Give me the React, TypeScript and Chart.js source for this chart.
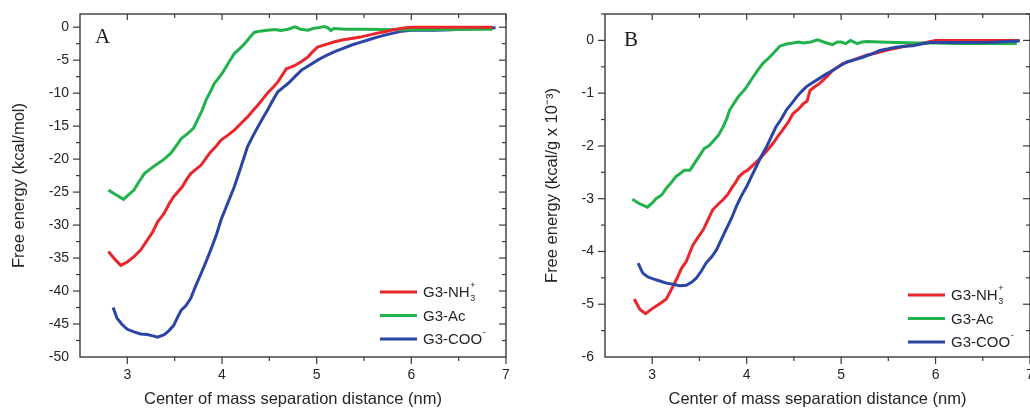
import React, { useEffect, useRef } from "react";
import { Chart, registerables } from "chart.js";

Chart.register(...registerables);

// ---------- data ----------
const X_TICKS = [3, 4, 5, 6, 7];
const A_Y_TICKS = [-50, -45, -40, -35, -30, -25, -20, -15, -10, -5, 0];
const B_Y_TICKS = [-6, -5, -4, -3, -2, -1, 0];

const SERIES_NAMES = ["G3-NH3+", "G3-Ac", "G3-COO-"];
const SERIES_COLORS = ["#e8262b", "#22b24c", "#2b45a6"];

// Panel A (kcal/mol)
const A_NH3_X = [2.80, 2.87, 2.93, 3.00, 3.07, 3.14, 3.21, 3.27, 3.32, 3.39, 3.44, 3.49, 3.58, 3.63, 3.67, 3.72, 3.78, 3.83, 3.88, 3.94, 3.99, 4.06, 4.13, 4.20, 4.27, 4.33, 4.38, 4.43, 4.48, 4.54, 4.59, 4.64, 4.68, 4.72, 4.77, 4.84, 4.91, 4.96, 5.01, 5.10, 5.19, 5.28, 5.37, 5.46, 5.55, 5.64, 5.72, 5.81, 5.90, 6.00, 6.20, 6.40, 6.60, 6.86];
const A_NH3_Y = [-34.0, -35.2, -36.1, -35.6, -34.8, -33.8, -32.3, -31.0, -29.5, -28.2, -26.8, -25.7, -24.2, -23.0, -22.2, -21.6, -20.9, -19.9, -18.9, -18.0, -17.1, -16.4, -15.6, -14.6, -13.6, -12.6, -11.8, -10.9, -10.0, -9.1, -8.3, -7.2, -6.3, -6.1, -5.8, -5.2, -4.5, -3.7, -3.0, -2.6, -2.2, -1.9, -1.7, -1.5, -1.2, -0.9, -0.7, -0.4, -0.15, 0.0, 0.0, 0.0, 0.0, 0.0];

const A_AC_X = [2.80, 2.88, 2.96, 3.02, 3.07, 3.12, 3.18, 3.25, 3.32, 3.39, 3.46, 3.52, 3.57, 3.64, 3.70, 3.74, 3.79, 3.83, 3.88, 3.92, 3.97, 4.01, 4.07, 4.13, 4.19, 4.24, 4.29, 4.34, 4.40, 4.48, 4.56, 4.62, 4.70, 4.77, 4.83, 4.91, 4.96, 5.01, 5.08, 5.12, 5.15, 5.18, 5.30, 5.50, 5.70, 5.90, 6.10, 6.30, 6.50, 6.70, 6.86];
const A_AC_Y = [-24.7, -25.4, -26.1, -25.3, -24.7, -23.5, -22.2, -21.4, -20.7, -20.0, -19.1, -17.9, -16.9, -16.1, -15.3, -14.1, -12.6, -11.1, -9.7, -8.5, -7.6, -6.8, -5.4, -4.0, -3.2, -2.5, -1.6, -0.8, -0.6, -0.45, -0.35, -0.5, -0.3, 0.05, -0.3, -0.45, -0.2, -0.1, 0.1, -0.1, -0.5, -0.2, -0.3, -0.3, -0.35, -0.4, -0.4, -0.35, -0.35, -0.3, -0.3];

const A_COO_X = [2.85, 2.89, 2.94, 3.00, 3.07, 3.14, 3.21, 3.27, 3.32, 3.39, 3.44, 3.49, 3.53, 3.57, 3.62, 3.67, 3.72, 3.78, 3.83, 3.88, 3.94, 3.99, 4.06, 4.13, 4.20, 4.27, 4.33, 4.38, 4.43, 4.48, 4.54, 4.59, 4.64, 4.70, 4.77, 4.84, 4.92, 5.01, 5.10, 5.19, 5.28, 5.37, 5.46, 5.55, 5.64, 5.72, 5.81, 5.90, 6.00, 6.08, 6.25, 6.43, 6.60, 6.75, 6.89];
const A_COO_Y = [-42.5, -44.1, -45.0, -45.8, -46.2, -46.5, -46.6, -46.8, -47.0, -46.6, -46.0, -45.2, -44.0, -42.9, -42.2, -41.1, -39.3, -37.3, -35.6, -33.8, -31.5, -29.2, -26.7, -24.2, -21.2, -18.1, -16.4, -15.1, -13.8, -12.6, -11.0, -9.8, -9.2, -8.5, -7.5, -6.5, -5.8, -5.0, -4.3, -3.7, -3.2, -2.7, -2.3, -1.9, -1.5, -1.2, -0.9, -0.6, -0.45, -0.45, -0.45, -0.4, -0.2, -0.15, -0.1];

// Panel B (kcal/g x 10^-3)
const B_NH3_X = [2.81, 2.87, 2.93, 3.01, 3.08, 3.15, 3.22, 3.27, 3.31, 3.36, 3.43, 3.49, 3.54, 3.59, 3.64, 3.70, 3.75, 3.80, 3.84, 3.88, 3.92, 3.97, 4.01, 4.07, 4.14, 4.21, 4.28, 4.33, 4.38, 4.44, 4.49, 4.55, 4.60, 4.64, 4.67, 4.72, 4.77, 4.84, 4.91, 4.97, 5.02, 5.13, 5.27, 5.37, 5.50, 5.70, 5.90, 6.00, 6.30, 6.60, 6.89];
const B_NH3_Y = [-4.90, -5.10, -5.18, -5.07, -4.99, -4.90, -4.66, -4.48, -4.32, -4.19, -3.88, -3.72, -3.59, -3.40, -3.21, -3.10, -3.02, -2.92, -2.80, -2.70, -2.58, -2.50, -2.46, -2.36, -2.24, -2.10, -1.95, -1.82, -1.70, -1.55, -1.39, -1.30, -1.20, -1.15, -0.95, -0.88, -0.82, -0.70, -0.57, -0.50, -0.44, -0.37, -0.28, -0.24, -0.18, -0.10, -0.04, 0.0, 0.0, 0.0, 0.0];

const B_AC_X = [2.79, 2.87, 2.95, 3.00, 3.04, 3.10, 3.15, 3.20, 3.25, 3.30, 3.34, 3.40, 3.47, 3.55, 3.60, 3.64, 3.70, 3.75, 3.79, 3.82, 3.87, 3.91, 3.96, 4.00, 4.07, 4.12, 4.17, 4.23, 4.28, 4.35, 4.42, 4.49, 4.55, 4.60, 4.68, 4.75, 4.83, 4.91, 4.96, 5.00, 5.05, 5.10, 5.17, 5.22, 5.28, 5.40, 5.60, 5.80, 6.00, 6.20, 6.40, 6.60, 6.86];
const B_AC_Y = [-3.01, -3.10, -3.16, -3.08, -3.00, -2.93, -2.80, -2.70, -2.58, -2.52, -2.46, -2.46, -2.27, -2.05, -2.00, -1.92, -1.80, -1.64, -1.48, -1.32, -1.18, -1.07, -0.97, -0.88, -0.69, -0.56, -0.44, -0.34, -0.25, -0.11, -0.07, -0.05, -0.03, -0.05, -0.03, 0.01, -0.04, -0.08, -0.03, -0.03, -0.06, 0.0, -0.06, -0.03, -0.02, -0.03, -0.04, -0.05, -0.05, -0.06, -0.06, -0.06, -0.06];

const B_COO_X = [2.85, 2.90, 2.95, 3.01, 3.08, 3.15, 3.22, 3.29, 3.36, 3.42, 3.47, 3.52, 3.57, 3.63, 3.68, 3.73, 3.78, 3.84, 3.89, 3.94, 4.00, 4.05, 4.10, 4.15, 4.21, 4.26, 4.31, 4.37, 4.42, 4.48, 4.53, 4.58, 4.63, 4.70, 4.77, 4.84, 4.91, 4.98, 5.06, 5.14, 5.23, 5.32, 5.41, 5.50, 5.58, 5.67, 5.76, 5.85, 5.94, 6.18, 6.54, 6.89];
const B_COO_Y = [-4.22, -4.41, -4.48, -4.52, -4.56, -4.60, -4.62, -4.65, -4.64, -4.58, -4.50, -4.37, -4.22, -4.10, -3.97, -3.78, -3.59, -3.37, -3.15, -2.96, -2.77, -2.58, -2.40, -2.21, -2.02, -1.83, -1.64, -1.48, -1.32, -1.19, -1.07, -0.97, -0.88, -0.80, -0.72, -0.64, -0.57, -0.49, -0.41, -0.37, -0.32, -0.26, -0.19, -0.16, -0.13, -0.11, -0.10, -0.07, -0.04, -0.04, -0.04, -0.01];

const X_TITLE = "Center of mass separation distance (nm)";
const A_Y_TITLE = "Free energy (kcal/mol)";
const B_Y_TITLE = "Free energy (kcal/g x 10\u207B\u00B3)";

// ---------- rendering ----------
const SANS = "'Liberation Sans', Arial, Helvetica, sans-serif";
const AXIS_COLOR = "#3a3a3a";
const TEXT_COLOR = "#262626";
const TITLE_SIZE = 16.5;

type PanelCfg = {
  letter: string;
  width: number;
  yAxisWidth: number;
  padRight: number;
  yMin: number;
  yMax: number;
  yTicks: number[];
  yTitle: string;
  yTitlePad: number;
  series: { x: number[]; y: number[] }[];
  order: number[];
  letterPos: [number, number];
  legendPos: [number, number];
};

const LEGEND_PARTS = [
  { base: "G3-NH", sub: "3", sup: "+" },
  { base: "G3-Ac", sub: "", sup: "" },
  { base: "G3-COO", sub: "", sup: "-" },
];

function makeDecorPlugin(cfg: PanelCfg) {
  return {
    id: "decor" + cfg.letter,
    afterDraw(chart: any) {
      const { ctx, chartArea } = chart;
      const { left, top, right, bottom } = chartArea;
      const xs = chart.scales.x;
      const ys = chart.scales.y;
      ctx.save();
      ctx.strokeStyle = AXIS_COLOR;
      ctx.lineWidth = 1.4;
      ctx.strokeRect(left, top, right - left, bottom - top);
      ctx.lineWidth = 1.2;
      const line = (x1: number, y1: number, x2: number, y2: number) => {
        ctx.beginPath();
        ctx.moveTo(x1, y1);
        ctx.lineTo(x2, y2);
        ctx.stroke();
      };
      // x ticks (major + minor)
      for (let v = 2.5; v <= 7.0001; v += 0.5) {
        const px = xs.getPixelForValue(v);
        if (px <= left + 1 || px > right + 0.5) continue;
        const major = Math.abs(v - Math.round(v)) < 1e-6;
        const lo = major ? 7 : 4;
        const li = major ? 6 : 4;
        line(px, bottom, px, bottom + lo);
        line(px, top, px, top + li);
      }
      // y ticks
      const step = (cfg.yTicks[1] - cfg.yTicks[0]) / 2;
      for (let v = cfg.yTicks[0]; v <= cfg.yMax + 1e-6; v += step) {
        const py = ys.getPixelForValue(v);
        if (py < top - 0.5 || py >= bottom - 1) continue;
        const major = cfg.yTicks.some((t) => Math.abs(t - v) < 1e-6);
        const lo = major ? 7 : 4;
        const li = major ? 7 : 4;
        line(left - lo, py, left, py);
        line(right - li, py, right, py);
      }
      // panel letter
      ctx.fillStyle = "#1a1a1a";
      ctx.font = "21px 'Liberation Serif', 'Times New Roman', serif";
      ctx.textBaseline = "alphabetic";
      ctx.textAlign = "left";
      ctx.fillText(cfg.letter, cfg.letterPos[0], cfg.letterPos[1]);
      // legend
      const [lx, ly] = cfg.legendPos;
      LEGEND_PARTS.forEach((p, i) => {
        const y = ly + i * 23.5;
        ctx.strokeStyle = SERIES_COLORS[i];
        ctx.lineWidth = 3;
        ctx.beginPath();
        ctx.moveTo(lx, y);
        ctx.lineTo(lx + 37, y);
        ctx.stroke();
        ctx.fillStyle = TEXT_COLOR;
        ctx.font = `15px ${SANS}`;
        ctx.textBaseline = "middle";
        const tx = lx + 43;
        ctx.fillText(p.base, tx, y + 1);
        const w = ctx.measureText(p.base).width;
        ctx.font = `9px ${SANS}`;
        if (p.sub) ctx.fillText(p.sub, tx + w + 0.5, y + 7);
        if (p.sup) ctx.fillText(p.sup, tx + w + 0.5, y - 6);
      });
      ctx.restore();
    },
  };
}

function Panel({ cfg, left }: { cfg: PanelCfg; left: number }) {
  const ref = useRef<HTMLCanvasElement | null>(null);
  useEffect(() => {
    if (!ref.current) return;
    const datasets = cfg.series.map((s, i) => ({
      label: SERIES_NAMES[i],
      data: s.x.map((x, j) => ({ x, y: s.y[j] })),
      borderColor: SERIES_COLORS[i],
      backgroundColor: SERIES_COLORS[i],
      borderWidth: 3,
      pointRadius: 0,
      tension: 0,
      fill: false,
      order: cfg.order[i],
    }));
    const chart = new Chart(ref.current, {
      type: "line",
      data: { datasets },
      options: {
        responsive: false,
        animation: false,
        layout: { padding: { top: 14, right: cfg.padRight, left: 0, bottom: 0 } },
        plugins: { legend: { display: false }, tooltip: { enabled: false } },
        scales: {
          x: {
            type: "linear",
            min: 2.5,
            max: 7,
            afterBuildTicks: (s: any) => {
              s.ticks = X_TICKS.map((v) => ({ value: v }));
            },
            afterFit: (s: any) => {
              s.height = 54;
              s.paddingLeft = 0;
              s.paddingRight = 0;
            },
            grid: { display: false, drawTicks: false },
            border: { display: false },
            ticks: {
              font: { family: SANS, size: 14 },
              color: TEXT_COLOR,
              padding: 10,
              maxRotation: 0,
              autoSkip: false,
              callback: (v: any) => String(v),
            },
            title: {
              display: true,
              text: X_TITLE,
              font: { family: SANS, size: TITLE_SIZE },
              color: TEXT_COLOR,
              padding: { top: 0, bottom: 2 },
            },
          },
          y: {
            type: "linear",
            min: cfg.yMin,
            max: cfg.yMax,
            afterBuildTicks: (s: any) => {
              s.ticks = cfg.yTicks.map((v) => ({ value: v }));
            },
            afterFit: (s: any) => {
              s.width = cfg.yAxisWidth;
              s.paddingTop = 0;
              s.paddingBottom = 0;
            },
            grid: { display: false, drawTicks: false },
            border: { display: false },
            ticks: {
              font: { family: SANS, size: 14 },
              color: TEXT_COLOR,
              padding: 11,
              autoSkip: false,
              callback: (v: any) => String(v),
            },
            title: {
              display: true,
              text: cfg.yTitle,
              font: { family: SANS, size: TITLE_SIZE },
              color: TEXT_COLOR,
              padding: { top: cfg.yTitlePad, bottom: 0 },
            },
          },
        },
      },
      plugins: [makeDecorPlugin(cfg)],
    } as any);
    return () => chart.destroy();
  }, [cfg]);
  return (
    <canvas
      ref={ref}
      width={cfg.width}
      height={411}
      style={{ position: "absolute", left, top: 0, width: cfg.width, height: 411 }}
    />
  );
}

const PANEL_A: PanelCfg = {
  letter: "A",
  width: 520,
  yAxisWidth: 80,
  padRight: 14,
  yMin: -50,
  yMax: 2,
  yTicks: A_Y_TICKS,
  yTitle: A_Y_TITLE,
  yTitlePad: 10,
  series: [
    { x: A_NH3_X, y: A_NH3_Y },
    { x: A_AC_X, y: A_AC_Y },
    { x: A_COO_X, y: A_COO_Y },
  ],
  order: [0, 1, 2],
  letterPos: [95, 43],
  legendPos: [380, 292],
};

const PANEL_B: PanelCfg = {
  letter: "B",
  width: 510,
  yAxisWidth: 85,
  padRight: 0,
  yMin: -6,
  yMax: 0.5,
  yTicks: B_Y_TICKS,
  yTitle: B_Y_TITLE,
  yTitlePad: 23,
  series: [
    { x: B_NH3_X, y: B_NH3_Y },
    { x: B_AC_X, y: B_AC_Y },
    { x: B_COO_X, y: B_COO_Y },
  ],
  order: [2, 1, 0],
  letterPos: [104, 46],
  legendPos: [388, 295],
};

export default function App() {
  return (
    <div
      style={{
        position: "fixed",
        left: 0,
        top: 0,
        width: 1030,
        height: 411,
        background: "#ffffff",
        overflow: "hidden",
      }}
    >
      <Panel cfg={PANEL_A} left={0} />
      <Panel cfg={PANEL_B} left={520} />
    </div>
  );
}
